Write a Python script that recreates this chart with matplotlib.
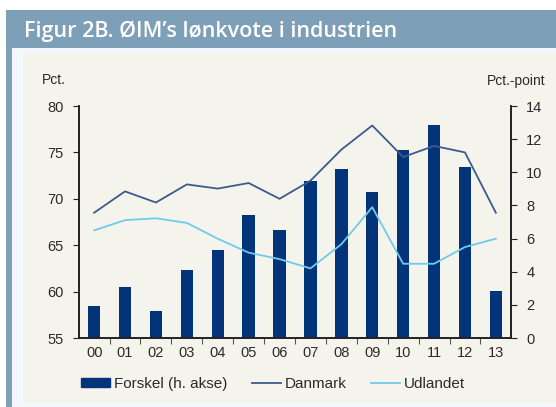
import matplotlib.pyplot as plt
import numpy as np
from matplotlib.patches import Rectangle
from matplotlib.lines import Line2D

years = ['00', '01', '02', '03', '04', '05', '06', '07', '08', '09', '10', '11', '12', '13']
forskel = [1.95, 3.05, 1.65, 4.1, 5.3, 7.4, 6.5, 9.5, 10.2, 8.8, 11.35, 12.85, 10.3, 2.85]
danmark = [68.5, 70.8, 69.6, 71.55, 71.1, 71.7, 70.0, 71.95, 75.3, 77.9, 74.5, 75.7, 75.0, 68.5]
udlandet = [66.6, 67.7, 67.9, 67.4, 65.7, 64.2, 63.5, 62.5, 65.1, 69.1, 63.0, 63.0, 64.8, 65.7]

W, H = 556, 407
border = '#7d9fb8'
panel = '#f5f4ec'
bar_col = '#03347a'
dk_col = '#3d5a8e'
ud_col = '#6fcbeb'
txt = '#2a2a2a'

plt.rcParams['font.family'] = ['Liberation Sans', 'DejaVu Sans']

fig = plt.figure(figsize=(W / 100, H / 100), dpi=100)
fig.patch.set_facecolor('white')


def box(x0, y0, x1, y1, color):
    # pixel coords from top-left
    fig.patches.append(Rectangle((x0 / W, 1 - y1 / H), (x1 - x0) / W, (y1 - y0) / H,
                                 transform=fig.transFigure, facecolor=color,
                                 edgecolor='none', zorder=-10))


box(6, 10, W, H, border)
box(12, 48, W, H, '#f4f8fc')
box(23, 53, W, 403, panel)

fig.text(24 / W, 1 - 37.5 / H, 'Figur 2B. ØIM\u2019s lønkvote i industrien', color='white',
         fontsize=15.5, fontweight='semibold', family=['Open Sans', 'DejaVu Sans'],
         va='baseline', ha='left')

ax = fig.add_axes([79 / W, 1 - 338 / H, (511 - 79) / W, (338 - 106) / H])
ax.set_facecolor('none')
ax2 = ax.twinx()
ax.set_zorder(ax2.get_zorder() + 1)

x = np.arange(len(years))
ax2.bar(x, forskel, width=0.4, color=bar_col, zorder=2)
ax.plot(x, danmark, color=dk_col, lw=1.3, zorder=3)
ax.plot(x, udlandet, color=ud_col, lw=1.3, zorder=3)

ax.set_xlim(-0.49, 13.49)
ax.set_ylim(55, 80)
ax2.set_ylim(0, 14)
ax.set_yticks(range(55, 81, 5))
ax2.set_yticks(range(0, 15, 2))
ax.set_xticks(x)
ax.set_xticklabels(years)
ax.set_xticks(x[:-1] + 0.5, minor=True)

for a in (ax, ax2):
    a.spines['top'].set_visible(False)
    for s in a.spines.values():
        s.set_color('#222222')
        s.set_linewidth(1.2)
ax.tick_params(axis='x', which='major', length=0, pad=6, labelsize=10.5, labelcolor=txt)
ax.tick_params(axis='x', which='minor', length=4, color='#555555', width=0.8)
ax.tick_params(axis='y', length=4, width=0.8, color='#222222', labelsize=10.5,
               labelcolor=txt, pad=7)
ax2.tick_params(axis='y', length=4, width=0.8, color='#222222', labelsize=10.5,
                labelcolor=txt, pad=7)

fig.text(42 / W, 1 - 80 / H, 'Pct.', fontsize=10, color=txt, va='center', ha='left')
fig.text(546 / W, 1 - 81 / H, 'Pct.-point', fontsize=10, color=txt, va='center', ha='right')

handles = [Rectangle((0, 0), 1, 1, color=bar_col),
           Line2D([], [], color=dk_col, lw=1.3),
           Line2D([], [], color=ud_col, lw=1.3)]
fig.legend(handles, ['Forskel (h. akse)', 'Danmark', 'Udlandet'], loc='center left',
           bbox_to_anchor=(81 / W, 1 - 384 / H), ncol=3, frameon=False, borderpad=0,
           borderaxespad=0, fontsize=11, handlelength=1.9, handleheight=0.55,
           handletextpad=0.25, columnspacing=1.6, labelcolor=txt)

fig.savefig('out.png', dpi=100)
